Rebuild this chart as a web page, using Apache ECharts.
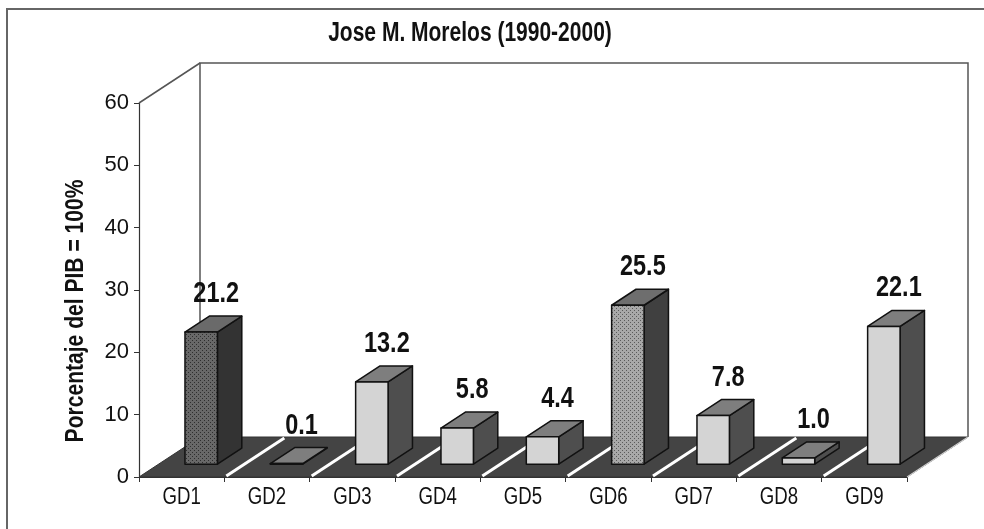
<!DOCTYPE html>
<html>
<head>
<meta charset="utf-8">
<script src="https://cdn.jsdelivr.net/npm/echarts@6/dist/echarts.min.js"></script>
<style>
  html, body { margin: 0; padding: 0; background: #fff; }
  #chart { width: 984px; height: 529px; }
</style>
</head>
<body>
<div id="chart"></div>
<script>
// datos
const categories = ['GD1', 'GD2', 'GD3', 'GD4', 'GD5', 'GD6', 'GD7', 'GD8', 'GD9'];
const values = [21.2, 0.1, 13.2, 5.8, 4.4, 25.5, 7.8, 1.0, 22.1];
const yMax = 60;
const yStep = 10;

// estilo de las barras (indices con textura punteada)
const dotted = { 0: 'dark', 5: 'mid' };

const FONT = "'Liberation Sans', Arial, sans-serif";
const SQUEEZE = 0.81; // letra angosta tipo Arial Narrow

// profundidad del "3D" (pixeles)
const DX = 61, DY = -40;
const F1 = 0.32, F2 = 0.72; // frente y fondo de la barra
const BAR_W = 0.38;

function makeDots(base, dot) {
  const c = document.createElement('canvas');
  c.width = 4; c.height = 4;
  const g = c.getContext('2d');
  g.fillStyle = base; g.fillRect(0, 0, 4, 4);
  g.fillStyle = dot;
  g.fillRect(0, 0, 1, 1);
  g.fillRect(2, 2, 1, 1);
  return { image: c, repeat: 'repeat' };
}
const faceStyles = {
  dark: { front: makeDots('#686868', '#2e2e2e'), top: '#6a6a6a', side: '#333333' },
  mid: { front: makeDots('#a8a8a8', '#5a5a5a'), top: '#6e6e6e', side: '#404040' },
  light: { front: '#d4d4d4', top: '#7e7e7e', side: '#4e4e4e' }
};

function narrowText(text, x, y, size, bold, extra, squeeze) {
  return Object.assign({
    type: 'text',
    x: x,
    y: y,
    scaleX: squeeze || SQUEEZE,
    style: {
      text: text,
      x: 0,
      y: 0,
      align: 'center',
      verticalAlign: 'middle',
      fill: '#111',
      font: (bold ? 'bold ' : '') + size + 'px ' + FONT
    }
  }, extra || {});
}

const chart = echarts.init(document.getElementById('chart'));

// piso, paredes y etiquetas de categoria
function renderFloor(params, api) {
  const n = categories.length;
  const bw = api.size([1, 0])[0];
  const left = api.coord([0, 0])[0] - bw / 2;
  const right = api.coord([n - 1, 0])[0] + bw / 2;
  const y0 = api.coord([0, 0])[1];
  const yTop = api.coord([0, yMax])[1];
  const children = [];
  // pared del fondo
  children.push({
    type: 'polyline',
    shape: { points: [[left + DX, y0 + DY], [left + DX, yTop + DY], [right + DX, yTop + DY], [right + DX, y0 + DY]] },
    style: { stroke: '#555', lineWidth: 1.5, fill: null }
  });
  // borde superior de la pared izquierda
  children.push({
    type: 'line',
    shape: { x1: left, y1: yTop, x2: left + DX, y2: yTop + DY },
    style: { stroke: '#555', lineWidth: 1.5 }
  });
  // piso
  children.push({
    type: 'polygon',
    shape: { points: [[left, y0], [right, y0], [right + DX, y0 + DY], [left + DX, y0 + DY]] },
    style: { fill: '#444444', stroke: '#333', lineWidth: 1 }
  });
  children.push({
    type: 'line',
    shape: { x1: right, y1: y0, x2: right + DX, y2: y0 + DY },
    style: { stroke: '#cfcfcf', lineWidth: 1.2 }
  });
  // separadores blancos
  for (let k = 1; k < n; k++) {
    const x = left + k * bw;
    children.push({
      type: 'line',
      shape: { x1: x + 2, y1: y0 - 1, x2: x + DX - 1, y2: y0 + DY + 1 },
      style: { stroke: '#ffffff', lineWidth: 3 }
    });
  }
  // etiquetas GD1..GD9
  categories.forEach((c, i) => {
    children.push(narrowText(c, api.coord([i, 0])[0], y0 + 21, 23, false));
  });
  return { type: 'group', children: children };
}

function renderBar(params, api) {
  const i = api.value(0);
  const v = api.value(1);
  const top = api.coord([i, v]);
  const bot = api.coord([i, 0]);
  const w = api.size([1, 0])[0] * BAR_W;
  const x0 = top[0] - w / 2 + F1 * DX;
  const x1 = x0 + w;
  const yT = top[1] + F1 * DY;
  const yB = bot[1] + F1 * DY;
  const ddx = (F2 - F1) * DX, ddy = (F2 - F1) * DY;
  const st = faceStyles[dotted[i] || 'light'];
  const line = { stroke: '#111', lineWidth: 1.5, lineJoin: 'round' };
  return {
    type: 'group',
    children: [
      {
        type: 'polygon',
        shape: { points: [[x1, yT], [x1 + ddx, yT + ddy], [x1 + ddx, yB + ddy], [x1, yB]] },
        style: Object.assign({ fill: st.side }, line)
      },
      {
        type: 'polygon',
        shape: { points: [[x0, yT], [x1, yT], [x1 + ddx, yT + ddy], [x0 + ddx, yT + ddy]] },
        style: Object.assign({ fill: st.top }, line)
      },
      {
        type: 'rect',
        shape: { x: x0, y: yT, width: w, height: Math.max(yB - yT, 0.5) },
        style: Object.assign({ fill: st.front }, line)
      },
      narrowText(v.toFixed(1), x0 + w / 2 + 15, yT - 38, 29, true)
    ]
  };
}

chart.setOption({
  animation: false,
  grid: { left: 139, right: 77, top: 103, bottom: 52 },
  xAxis: {
    type: 'category',
    data: categories,
    axisLine: { show: true, lineStyle: { color: '#333', width: 1.2 } },
    axisTick: { show: true, length: 5, lineStyle: { color: '#333' } },
    axisLabel: { show: false },
    splitLine: { show: false }
  },
  yAxis: {
    type: 'value',
    min: 0,
    max: yMax,
    interval: yStep,
    axisLine: { show: true, lineStyle: { color: '#333', width: 1.2 } },
    axisTick: { show: true, length: 5, lineStyle: { color: '#333' } },
    axisLabel: { fontFamily: FONT, fontSize: 22, color: '#111', margin: 10 },
    splitLine: { show: false }
  },
  graphic: [
    {
      type: 'polyline',
      shape: { points: [[7, 529], [7, 9], [984, 9]] },
      style: { stroke: '#666', lineWidth: 2, fill: null },
      silent: true
    },
    narrowText('Jose M. Morelos (1990-2000)', 470, 33, 28, true, null, 0.75),
    narrowText('Porcentaje del PIB = 100%', 76, 311, 26, true, { rotation: Math.PI / 2 })
  ],
  series: [
    {
      type: 'custom',
      z: 1,
      clip: false,
      silent: true,
      renderItem: renderFloor,
      data: [[0, 0]]
    },
    {
      type: 'custom',
      z: 3,
      clip: false,
      silent: true,
      renderItem: renderBar,
      encode: { x: 0, y: 1 },
      data: values.map((v, i) => [i, v])
    }
  ]
});
</script>
</body>
</html>
